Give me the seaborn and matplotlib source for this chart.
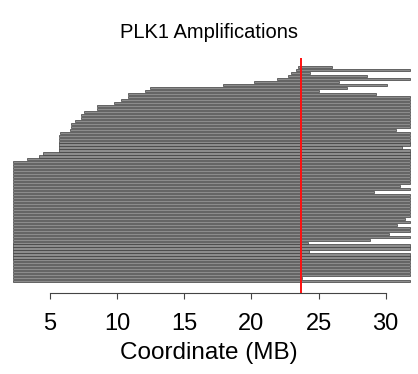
import matplotlib
matplotlib.use("Agg")
import matplotlib.pyplot as plt
import seaborn as sns
import pandas as pd

# Amplified segments per sample (MB), ordered by start coordinate
seg_start = [23.49, 23.30, 22.95, 22.75, 21.88, 20.22, 17.90, 12.45, 12.08, 10.79,
             10.79, 10.27, 9.77, 8.48, 8.48, 7.56, 7.31, 7.31, 6.87, 6.57,
             6.57, 6.50, 5.75, 5.65, 5.65, 5.65, 5.65, 5.65, 5.65, 4.51,
             4.18, 3.27, 2.27, 2.27, 2.27, 2.27, 2.27, 2.27, 2.27, 2.27,
             2.27, 2.27, 2.27, 2.27, 2.27, 2.27, 2.27, 2.27, 2.27, 2.27,
             2.27, 2.27, 2.27, 2.27, 2.27, 2.27, 2.27, 2.27, 2.27, 2.27,
             2.27, 2.27, 2.27, 2.27, 2.27, 2.27, 2.27, 2.27, 2.27, 2.27,
             2.27, 2.27, 2.27]
seg_end = [25.98, 31.80, 24.36, 28.59, 31.80, 26.55, 30.07, 27.10, 25.00, 29.25,
           31.80, 31.80, 31.80, 31.80, 31.80, 31.80, 31.80, 31.80, 31.80, 31.80,
           31.80, 30.80, 31.80, 31.80, 31.80, 31.80, 31.80, 31.20, 31.80, 31.80,
           31.80, 31.80, 31.80, 31.80, 31.80, 31.80, 31.80, 31.80, 31.80, 31.80,
           31.06, 31.80, 29.13, 31.80, 31.80, 31.80, 31.80, 31.80, 31.80, 31.80,
           31.80, 31.40, 31.80, 30.84, 31.80, 31.80, 30.25, 31.80, 28.83, 24.24,
           31.80, 31.80, 24.29, 31.80, 31.80, 31.80, 31.80, 31.80, 31.80, 31.80,
           31.80, 23.74, 31.80]
gene_pos = 23.68          # PLK1 location (MB)
x_ticks = [5, 10, 15, 20, 25, 30]

df = pd.DataFrame({"start": seg_start, "end": seg_end})
df["row"] = range(len(df))

sns.set_style("white")
plt.rcParams["font.family"] = ["Liberation Sans", "DejaVu Sans"]
plt.rcParams["text.color"] = "black"
plt.rcParams["axes.labelcolor"] = "black"
plt.rcParams["xtick.color"] = "black"

fig = plt.figure(figsize=(4.18, 3.74), dpi=100)
ax = fig.add_axes([0.0, 0.2158, 1.0, 0.629])

ax.barh(df["row"], df["end"] - df["start"], left=df["start"], height=0.72,
        color="#8c8c8c", edgecolor="#3c3c3c", linewidth=0.5)
ax.axvline(gene_pos, color="#ff1010", linewidth=1.4, zorder=5)

ax.set_xlim(1.281, 32.405)
ax.set_ylim(76.07, -3.13)
ax.set_yticks([])
ax.set_xticks(x_ticks)
ax.set_xticklabels([str(t) for t in x_ticks], fontsize=17)
ax.tick_params(axis="x", direction="out", length=4, width=0.8,
               pad=10, bottom=True)
ax.tick_params(axis="x", color="#444444")
for side in ("top", "left", "right"):
    ax.spines[side].set_visible(False)
ax.spines["bottom"].set_bounds(5, 30)
ax.spines["bottom"].set_color("#444444")
ax.spines["bottom"].set_linewidth(0.8)
ax.set_xlabel("Coordinate (MB)", fontsize=17.5, labelpad=5)
fig.text(0.5, 1 - 33 / 374, "PLK1 Amplifications", ha="center", va="center",
         fontsize=14.5)

fig.savefig("out.png", dpi=100)
